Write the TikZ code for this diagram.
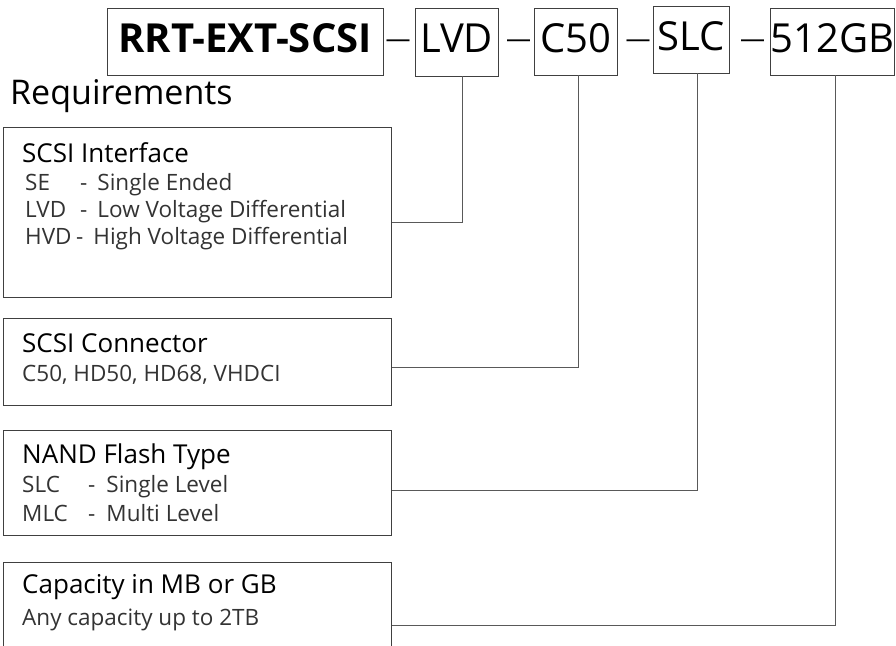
\documentclass[tikz,border=0pt]{standalone}
\usepackage{fontspec}
\setmainfont{Open Sans}
\usetikzlibrary{positioning}

\newcommand{\CodeCol}[2]{\makebox[#1][l]{#2}}

\begin{document}
\begin{tikzpicture}[x=1pt,y=-1pt]
	\tikzstyle{Part}  = [draw=black!75, line width=0.9pt, inner sep=0pt, text height=29pt, text depth=8pt, font=\fontsize{40}{40}\selectfont]
	\tikzstyle{Sep}   = [anchor=base, inner sep=0pt, font=\fontsize{25}{25}\selectfont]
	\tikzstyle{Req}   = [draw=black!75, line width=0.9pt, anchor=north west, minimum width=388pt, inner sep=0pt]
	\tikzstyle{Title} = [anchor=base west, inner sep=0pt, font=\fontsize{26}{26}\selectfont]
	\tikzstyle{Item}  = [anchor=base west, inner sep=0pt, text=black!80, font=\fontsize{22.5}{22.5}\selectfont]
	\tikzstyle{Link}  = [draw=black!65, line width=0.9pt]

	\useasboundingbox (0,0) rectangle (896,645);
	\clip (0,0) rectangle (896,645);

	% part number
	\node (rrt) at (245,41.5) [Part, minimum width=276pt, minimum height=67pt, font=\fontsize{40}{40}\selectfont\bfseries] {RRT-EXT-SCSI};
	\node (lvd) at (456.5,42) [Part, minimum width=83pt, minimum height=68pt] {LVD};
	\node (c50) at (575.5,41.5) [Part, minimum width=83pt, minimum height=67pt] {C50};
	\node (slc) at (691,39.5) [Part, minimum width=76pt, minimum height=67pt] {SLC};
	\node (gb) at (832.5,41.5) [Part, minimum width=121pt, minimum height=67pt] {512GB};

	\node (d1) at (398,47.5) [Sep] {—};
	\node (d2) at (518.5,47.5) [Sep] {—};
	\node (d3) at (638,47.5) [Sep] {—};
	\node (d4) at (752.5,47.5) [Sep] {—};

	\node (req) at (10,104) [anchor=base west, inner sep=0pt, font=\fontsize{34}{34}\selectfont] {Requirements};

	% requirement boxes
	\node (iface) at (3,127) [Req, minimum height=170pt] {};
	\node (conn) at (3,318) [Req, minimum height=87pt] {};
	\node (nand) at (3,430) [Req, minimum height=105pt] {};
	\node (cap) at (3,562) [Req, minimum height=120pt] {};

	\node (ifaceT) at (22,162) [Title] {SCSI Interface};
	\node (ifaceA) at (25,190) [Item] {\CodeCol{55pt}{SE}-\hspace{10pt}Single Ended};
	\node (ifaceB) at (25,217) [Item] {\CodeCol{55pt}{LVD}-\hspace{10pt}Low Voltage Differential};
	\node (ifaceC) at (25,244) [Item] {\CodeCol{51pt}{HVD}-\hspace{10pt}High Voltage Differential};

	\node (connT) at (22,352) [Title] {SCSI Connector};
	\node (connA) at (22,381) [Item] {C50, HD50, HD68, VHDCI};

	\node (nandT) at (22,463) [Title] {NAND Flash Type};
	\node (nandA) at (22,492) [Item] {\CodeCol{66pt}{SLC}-\hspace{11pt}Single Level};
	\node (nandB) at (22,521) [Item] {\CodeCol{66pt}{MLC}-\hspace{11pt}Multi Level};

	\node (capT) at (22,593) [Title] {Capacity in MB or GB};
	\node (capA) at (22,625) [Item] {Any capacity up to 2TB};

	% links
	\draw [Link] ([xshift=5.5pt]lvd.south) |- ([yshift=-10pt]iface.east);
	\draw [Link] ([xshift=2.5pt]c50.south) |- ([yshift=-5.5pt]conn.east);
	\draw [Link] ([xshift=6pt]slc.south) |- ([yshift=-7.5pt]nand.east);
	\draw [Link] ([xshift=2.5pt]gb.south) |- ([yshift=-3pt]cap.east);
\end{tikzpicture}
\end{document}
